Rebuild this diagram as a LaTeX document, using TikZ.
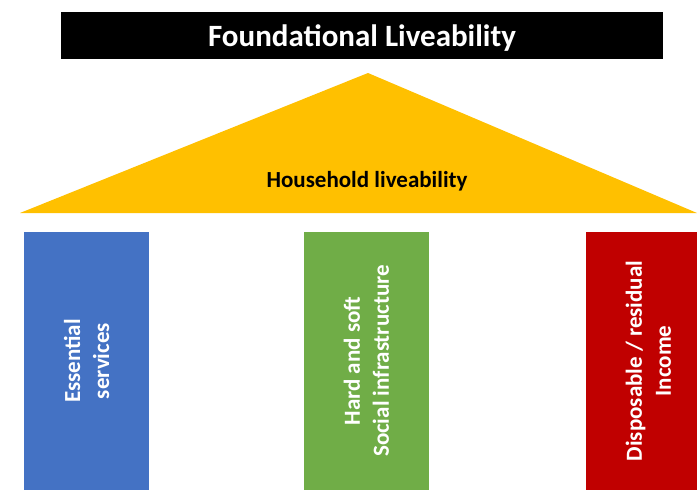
\documentclass[tikz,border=0pt]{standalone}
\usepackage{fontspec}
\setmainfont{Carlito}
\usepackage{tikz}

\definecolor{roofgold}{HTML}{FFC000}
\definecolor{pillarblue}{HTML}{4472C4}
\definecolor{pillargreen}{HTML}{70AD47}
\definecolor{pillarred}{HTML}{C00000}

\tikzset{
  pillar/.style={rotate=90, minimum width=258pt, minimum height=125pt,
    inner sep=0pt, text=white, align=center, font=\fontsize{23}{29}\selectfont\bfseries}
}

\begin{document}
\begin{tikzpicture}[x=1pt,y=-1pt]
				\useasboundingbox[fill=white] (0,0) rectangle (697,490);
				\node[fill=black, minimum width=602pt, minimum height=47pt, inner sep=0pt, text depth=0pt,
				  text=white, font=\fontsize{31}{34}\selectfont\bfseries] (top) at (362,35.5) {Foundational Liveability};
				\coordinate (apex) at (368,73);
				\coordinate (baseL) at (20,213);
				\coordinate (baseR) at (697,213);
				\fill[roofgold] (baseL) -- (apex) -- (baseR) -- cycle;
				\node[font=\fontsize{23}{26}\selectfont\bfseries] (roof) at (367,181) {Household liveability};
				\node[pillar, fill=pillarblue] (essential) at (86.5,361) {Essential\\services};
				\node[pillar, fill=pillargreen] (social) at (366.5,361) {Hard and soft\\Social infrastructure};
				\node[pillar, fill=pillarred] (income) at (648.5,361) {Disposable / residual\\Income};
			\end{tikzpicture}
\end{document}
